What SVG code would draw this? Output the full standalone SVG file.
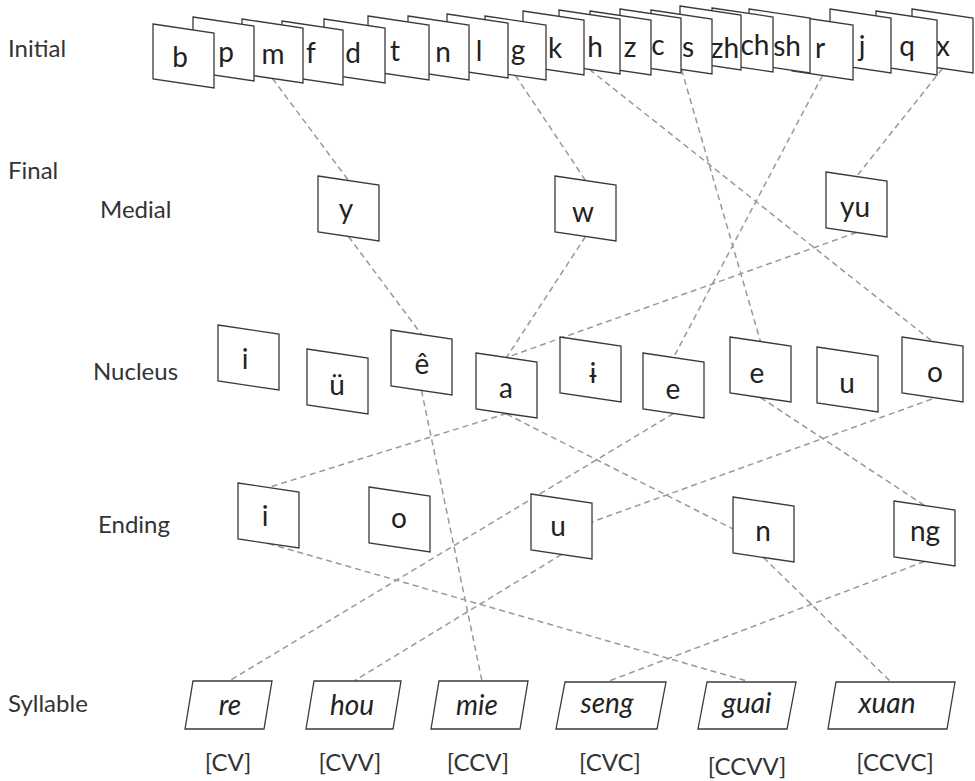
<svg xmlns="http://www.w3.org/2000/svg" xmlns:xlink="http://www.w3.org/1999/xlink" width="975" height="781" viewBox="0 0 975 781">
<style>
.bx{fill:#fff;stroke:#3a3a3a;stroke-width:1.3}
.lt{font-family:Lato,"Open Sans",sans-serif;font-size:28px;fill:#222;text-anchor:middle}
.sy{font-family:Lato,"Open Sans",sans-serif;font-size:28px;font-style:italic;fill:#222;text-anchor:middle}
.br{font-family:Lato,"Open Sans",sans-serif;font-size:24px;fill:#333;text-anchor:middle}
.lb{font-family:Lato,"Open Sans",sans-serif;font-size:24px;fill:#333}
.cn line{stroke:#999;stroke-width:1.5;stroke-dasharray:6 4;fill:none}
</style>
<defs>
<path id="ib" class="bx" d="M0 0L61 9V64L0 55Z"/>
<path id="nb" class="bx" d="M0 0L61 9V65L0 56Z"/>
</defs>
<rect width="975" height="781" fill="#fff"/>

<g id="labels">
<text class="lb" x="8" y="57">Initial</text>
<text class="lb" x="8" y="179">Final</text>
<text class="lb" x="100" y="218">Medial</text>
<text class="lb" x="93" y="380">Nucleus</text>
<text class="lb" x="98" y="533">Ending</text>
<text class="lb" x="8" y="712">Syllable</text>
</g>

<g id="connectors" class="cn">
<line x1="272.5" y1="78.5" x2="348.5" y2="180.5"/>
<line x1="348.5" y1="236.5" x2="421.5" y2="334.5"/>
<line x1="421.5" y1="390.5" x2="482" y2="681"/>
<line x1="515.5" y1="75.5" x2="585.5" y2="180.5"/>
<line x1="585.5" y1="236.5" x2="506.5" y2="357.5"/>
<line x1="506.5" y1="413.5" x2="268.5" y2="487.5"/>
<line x1="268.5" y1="543.5" x2="747" y2="681"/>
<line x1="822.5" y1="75.5" x2="673.5" y2="357.5"/>
<line x1="673.5" y1="413.5" x2="229" y2="681"/>
<line x1="589.5" y1="69.5" x2="932.5" y2="341.5"/>
<line x1="932" y1="399" x2="561.5" y2="533"/>
<line x1="561.5" y1="554.5" x2="354" y2="681"/>
<line x1="681.5" y1="69.5" x2="760.5" y2="341.5"/>
<line x1="760.5" y1="397.5" x2="924.5" y2="505.5"/>
<line x1="924.5" y1="561.5" x2="609" y2="681"/>
<line x1="942.5" y1="68.5" x2="856.5" y2="176.5"/>
<line x1="856.5" y1="232.5" x2="506.5" y2="357.5"/>
<line x1="506.5" y1="414" x2="745" y2="535"/>
<line x1="763.5" y1="557.5" x2="890" y2="681"/>
</g>

<g id="initials">
<g id="init-x"><use href="#ib" x="912" y="9"/><text class="lt" x="943" y="56">x</text></g>
<g id="init-q"><use href="#ib" x="876" y="11"/><text class="lt" x="907" y="56">q</text></g>
<g id="init-j"><use href="#ib" x="830" y="9"/><text class="lt" x="862" y="56">j</text></g>
<g id="init-r"><use href="#ib" x="792" y="16"/><text class="lt" x="820" y="58">r</text></g>
<g id="init-sh"><use href="#ib" x="749" y="9"/><text class="lt" x="787" y="56">sh</text></g>
<g id="init-ch"><use href="#ib" x="712" y="8"/><text class="lt" x="755" y="55">ch</text></g>
<g id="init-zh"><use href="#ib" x="680" y="6"/><text class="lt" x="725" y="58">zh</text></g>
<g id="init-s"><use href="#ib" x="651" y="10"/><text class="lt" x="688" y="57">s</text></g>
<g id="init-c"><use href="#ib" x="620" y="9"/><text class="lt" x="658" y="55">c</text></g>
<g id="init-z"><use href="#ib" x="590" y="11"/><text class="lt" x="630" y="57">z</text></g>
<g id="init-h"><use href="#ib" x="559" y="10"/><text class="lt" x="595" y="57">h</text></g>
<g id="init-k"><use href="#ib" x="523" y="11"/><text class="lt" x="555" y="58">k</text></g>
<g id="init-g"><use href="#ib" x="485" y="16"/><text class="lt" x="518" y="60">g</text></g>
<g id="init-l"><use href="#ib" x="447" y="14"/><text class="lt" x="479" y="61">l</text></g>
<g id="init-n"><use href="#ib" x="408" y="16"/><text class="lt" x="443" y="62">n</text></g>
<g id="init-t"><use href="#ib" x="368" y="16"/><text class="lt" x="395" y="61">t</text></g>
<g id="init-d"><use href="#ib" x="324" y="19"/><text class="lt" x="353" y="63">d</text></g>
<g id="init-f"><use href="#ib" x="282" y="21"/><text class="lt" x="311" y="63">f</text></g>
<g id="init-m"><use href="#ib" x="242" y="19"/><text class="lt" x="273" y="64">m</text></g>
<g id="init-p"><use href="#ib" x="193" y="17"/><text class="lt" x="226" y="62">p</text></g>
<g id="init-b"><use href="#ib" x="153" y="24"/><text class="lt" x="180" y="67">b</text></g>
</g>

<g id="medials">
<g id="med-y"><use href="#nb" x="318" y="176"/><text class="lt" x="346" y="219">y</text></g>
<g id="med-w"><use href="#nb" x="555" y="176"/><text class="lt" x="583" y="222">w</text></g>
<g id="med-yu"><use href="#nb" x="826" y="172"/><text class="lt" x="855" y="217">yu</text></g>
</g>

<g id="nuclei">
<g id="nuc-i"><use href="#nb" x="218" y="325"/><text class="lt" x="245" y="369">i</text></g>
<g id="nuc-uu"><use href="#nb" x="307" y="349"/><text class="lt" x="337" y="395">ü</text></g>
<g id="nuc-e-hat"><use href="#nb" x="391" y="330"/><text class="lt" x="422" y="374">ê</text></g>
<g id="nuc-a"><use href="#nb" x="476" y="353"/><text class="lt" x="506" y="398">a</text></g>
<g id="nuc-i-bar"><use href="#nb" x="560" y="337"/><text class="lt" x="593" y="383">ɨ</text></g>
<g id="nuc-e1"><use href="#nb" x="643" y="353"/><text class="lt" x="673" y="399">e</text></g>
<g id="nuc-e2"><use href="#nb" x="730" y="337"/><text class="lt" x="757" y="383">e</text></g>
<g id="nuc-u"><use href="#nb" x="817" y="347"/><text class="lt" x="847" y="393">u</text></g>
<g id="nuc-o"><use href="#nb" x="902" y="337"/><text class="lt" x="935" y="382">o</text></g>
</g>

<g id="endings">
<g id="end-i"><use href="#nb" x="238" y="483"/><text class="lt" x="265" y="526">i</text></g>
<g id="end-o"><use href="#nb" x="369" y="487"/><text class="lt" x="399" y="528">o</text></g>
<g id="end-u"><use href="#nb" x="531" y="494"/><text class="lt" x="558" y="536">u</text></g>
<g id="end-n"><use href="#nb" x="733" y="497"/><text class="lt" x="763" y="541">n</text></g>
<g id="end-ng"><use href="#nb" x="894" y="501"/><text class="lt" x="925" y="541">ng</text></g>
</g>

<g id="syllables">
<g id="syl-re"><path class="bx" d="M193 681H272L264 729H185Z"/><text class="sy" x="230" y="715">re</text></g>
<g id="syl-hou"><path class="bx" d="M314 681H401L393 729H306Z"/><text class="sy" x="352" y="715">hou</text></g>
<g id="syl-mie"><path class="bx" d="M439 681H528L520 729H431Z"/><text class="sy" x="477" y="715">mie</text></g>
<g id="syl-seng"><path class="bx" d="M565 682H666L657 729H556Z"/><text class="sy" x="607" y="713">seng</text></g>
<g id="syl-guai"><path class="bx" d="M707 682H796L787 729H698Z"/><text class="sy" x="747" y="713">guai</text></g>
<g id="syl-xuan"><path class="bx" d="M836 682H955L947 729H828Z"/><text class="sy" x="887" y="713">xuan</text></g>
</g>

<g id="types">
<text class="br" x="228" y="771">[CV]</text>
<text class="br" x="350" y="771">[CVV]</text>
<text class="br" x="478" y="771">[CCV]</text>
<text class="br" x="610" y="771">[CVC]</text>
<text class="br" x="747" y="775">[CCVV]</text>
<text class="br" x="895" y="771">[CCVC]</text>
</g>
</svg>
